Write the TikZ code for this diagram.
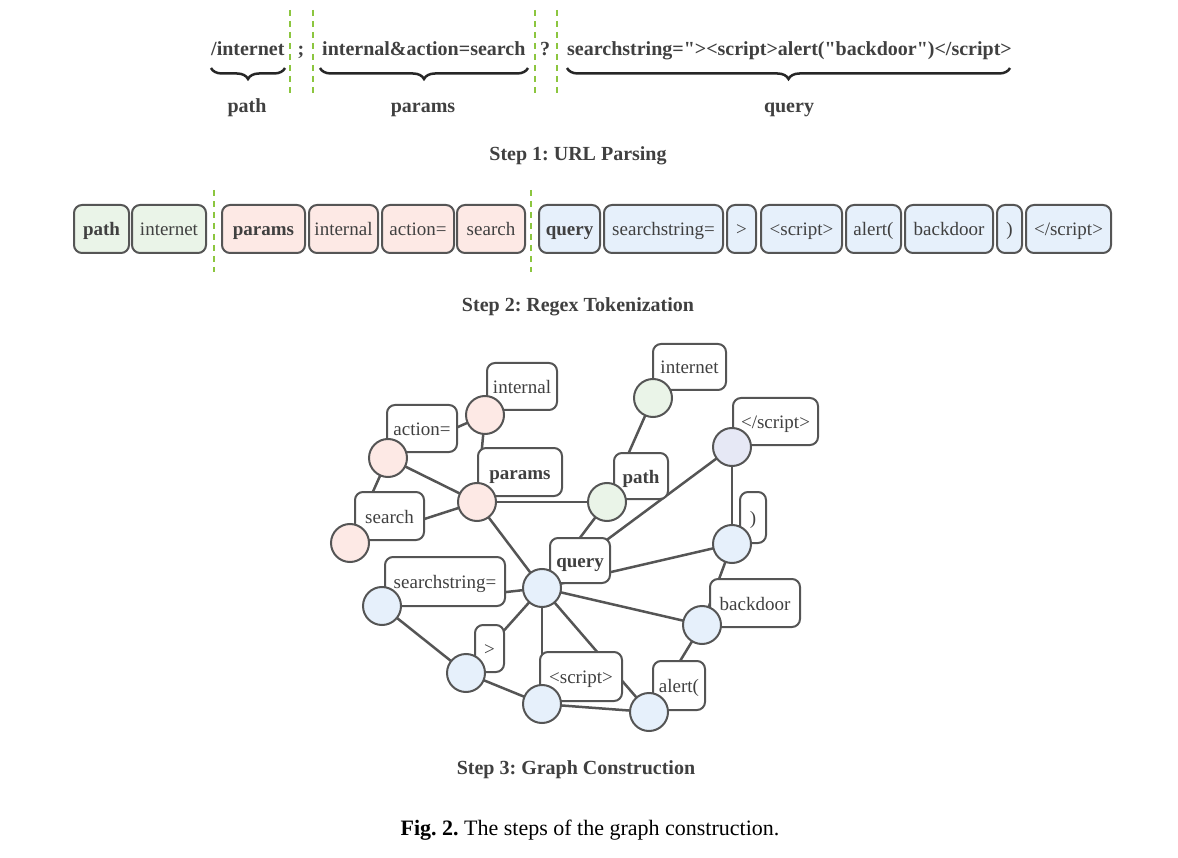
\documentclass[tikz,border=0pt]{standalone}
\usepackage{fontspec}
\setmainfont{Liberation Serif}[Ligatures=TeXOff]
\usetikzlibrary{decorations.pathreplacing}
\definecolor{txt}{HTML}{404040}
\definecolor{bord}{HTML}{555555}
\definecolor{gfill}{HTML}{EAF4E8}
\definecolor{pfill}{HTML}{FDE9E5}
\definecolor{bfill}{HTML}{E6F0FB}
\definecolor{lfill}{HTML}{E6E8F5}
\definecolor{dgreen}{HTML}{8CC63F}
\frenchspacing
\begin{document}
\begin{tikzpicture}[x=1pt,y=-1pt,
  every node/.style={text=txt, font=\fontsize{19}{22}\selectfont},
  tok/.style={draw=bord, line width=2pt, rounded corners=8pt, inner sep=0pt, minimum height=48pt, text height=15pt, text depth=2pt},
  lab/.style={draw=bord, line width=2pt, rounded corners=8pt, fill=white, inner sep=0pt, text height=15.5pt, text depth=1.5pt},
  vtx/.style={circle, draw=bord, line width=2pt, minimum size=38pt, inner sep=0pt},
  conn/.style={draw=bord, line width=2.5pt},
  sepline/.style={draw=dgreen, line width=2.5pt, dash pattern=on 6pt off 5pt},
  brc/.style={decorate, decoration={brace, amplitude=11pt, mirror}, line width=2.5pt, draw=black!85},
  stepcap/.style={font=\fontsize{20}{24}\selectfont\bfseries},
  txtline/.style={inner sep=0pt, font=\fontsize{20}{24}\selectfont\bfseries}
]
\useasboundingbox (0,0) rectangle (1178,858);

% ---------- Step 1 ----------
\node[txtline, anchor=base west] (u1) at (211,56) {/internet};
\node[txtline, anchor=base] (u2) at (301,56) {;};
\node[txtline, anchor=base west] (u3) at (322,56) {internal\&action=search};
\node[txtline, anchor=base] (u4) at (545,56) {?};
\node[txtline, anchor=base west] (u5) at (567,56) {searchstring="><script>alert("backdoor")</script>};

\foreach \xx in {290,313,535,557} \draw[sepline] (\xx,10) -- (\xx,95);

\coordinate (b1a) at (211,68); \coordinate (b1b) at (285,68);
\coordinate (b2a) at (320,68); \coordinate (b2b) at (528,68);
\coordinate (b3a) at (567,68); \coordinate (b3b) at (1010,68);
\draw[brc] (b1a) -- (b1b);
\draw[brc] (b2a) -- (b2b);
\draw[brc] (b3a) -- (b3b);
\node[txtline, anchor=base] (l1) at (247,113) {path};
\node[txtline, anchor=base] (l2) at (423,113) {params};
\node[txtline, anchor=base] (l3) at (789,113) {query};

\node[stepcap] (c1) at (578,156) {Step 1: URL Parsing};

% ---------- Step 2 ----------
\node[tok, fill=gfill, minimum width=55pt] (t1) at (101.5,229) {\textbf{path}};
\node[tok, fill=gfill, minimum width=74pt] (t2) at (169,229) {internet};
\node[tok, fill=pfill, minimum width=83pt] (t3) at (263.5,229) {\textbf{params}};
\node[tok, fill=pfill, minimum width=69pt] (t4) at (343.5,229) {internal};
\node[tok, fill=pfill, minimum width=72pt] (t5) at (418,229) {action=};
\node[tok, fill=pfill, minimum width=68pt] (t6) at (491,229) {search};
\node[tok, fill=bfill, minimum width=61pt] (t7) at (569.5,229) {\textbf{query}};
\node[tok, fill=bfill, minimum width=119pt] (t8) at (663.5,229) {searchstring=};
\node[tok, fill=bfill, minimum width=29pt] (t9) at (741.5,229) {>};
\node[tok, fill=bfill, minimum width=81pt] (t10) at (801.5,229) {<script>};
\node[tok, fill=bfill, minimum width=55pt] (t11) at (873.5,229) {alert(};
\node[tok, fill=bfill, minimum width=88pt] (t12) at (949,229) {backdoor};
\node[tok, fill=bfill, minimum width=25pt] (t13) at (1009.5,229) {)};
\node[tok, fill=bfill, minimum width=85pt] (t14) at (1068.5,229) {</script>};
\draw[sepline] (214,190) -- (214,272);
\draw[sepline] (531,190) -- (531,272);

\node[stepcap] (c2) at (578,307) {Step 2: Regex Tokenization};

% ---------- Step 3 ----------
\coordinate (pact) at (388,458);
\coordinate (pint) at (485,415);
\coordinate (ppar) at (477,502);
\coordinate (psea) at (350,543);
\coordinate (pinet) at (653,398);
\coordinate (ppath) at (607,502);
\coordinate (pscr2) at (732,447);
\coordinate (prp) at (732,544);
\coordinate (pq) at (542,588);
\coordinate (pss) at (382,606);
\coordinate (pbd) at (702,625);
\coordinate (pgt) at (466,673);
\coordinate (pscr) at (542,704);
\coordinate (pal) at (649,712);

\draw[conn] (pact) -- (pint);
\draw[conn] (pint) -- (ppar);
\draw[conn] (pact) -- (psea);
\draw[conn] (pact) -- (ppar);
\draw[conn] (psea) -- (ppar);
\draw[conn] (ppar) -- (ppath);
\draw[conn] (ppath) -- (pinet);
\draw[conn] (ppath) -- (pq);
\draw[conn] (ppar) -- (pq);
\draw[conn] (pq) -- (pscr2);
\draw[conn] (pq) -- (prp);
\draw[conn] (pscr2) -- (prp);
\draw[conn] (prp) -- (pbd);
\draw[conn] (pbd) -- (pal);
\draw[conn] (pq) -- (pbd);
\draw[conn] (pq) -- (pss);
\draw[conn] (pq) -- (pgt);
\draw[conn] (pq) -- (pscr);
\draw[conn] (pq) -- (pal);
\draw[conn] (pss) -- (pgt);
\draw[conn] (pgt) -- (pscr);
\draw[conn] (pscr) -- (pal);

\node[lab, minimum width=70pt, minimum height=47pt] (lint) at (522,386.5) {internal};
\node[lab, minimum width=70pt, minimum height=47pt] (lact) at (422,428.5) {action=};
\node[lab, minimum width=84pt, minimum height=48pt] (lpar) at (520,472) {\textbf{params}};
\node[lab, minimum width=69pt, minimum height=48pt] (lsea) at (389.5,516) {search};
\node[lab, minimum width=73pt, minimum height=46pt] (linet) at (689.5,367) {internet};
\node[lab, minimum width=54pt, minimum height=46pt] (lpath) at (641,476) {\textbf{path}};
\node[lab, minimum width=85pt, minimum height=47pt] (lscr2) at (775.5,421.5) {</script>};
\node[lab, minimum width=26pt, minimum height=51pt] (lrp) at (753,517.5) {)};
\node[lab, minimum width=60pt, minimum height=45pt] (lq) at (580,560.5) {\textbf{query}};
\node[lab, minimum width=120pt, minimum height=49pt] (lss) at (445,581.5) {searchstring=};
\node[lab, minimum width=90pt, minimum height=48pt] (lbd) at (755,603) {backdoor};
\node[lab, minimum width=29pt, minimum height=47pt] (lgt) at (489.5,648.5) {>};
\node[lab, minimum width=82pt, minimum height=49pt] (lscr) at (581,676.5) {<script>};
\node[lab, minimum width=52pt, minimum height=49pt] (lal) at (679,685.5) {alert(};

\node[vtx, fill=pfill] (vact) at (pact) {};
\node[vtx, fill=pfill] (vint) at (pint) {};
\node[vtx, fill=pfill] (vpar) at (ppar) {};
\node[vtx, fill=pfill] (vsea) at (psea) {};
\node[vtx, fill=gfill] (vinet) at (pinet) {};
\node[vtx, fill=gfill] (vpath) at (ppath) {};
\node[vtx, fill=lfill] (vscr2) at (pscr2) {};
\node[vtx, fill=bfill] (vrp) at (prp) {};
\node[vtx, fill=bfill] (vq) at (pq) {};
\node[vtx, fill=bfill] (vss) at (pss) {};
\node[vtx, fill=bfill] (vbd) at (pbd) {};
\node[vtx, fill=bfill] (vgt) at (pgt) {};
\node[vtx, fill=bfill] (vscr) at (pscr) {};
\node[vtx, fill=bfill] (val) at (pal) {};

\node[stepcap] (c3) at (576,770) {Step 3: Graph Construction};

\node[text=black, font=\fontsize{22}{26}\selectfont] (fig) at (590,830) {\textbf{Fig. 2.} The steps of the graph construction.};
\end{tikzpicture}
\end{document}
